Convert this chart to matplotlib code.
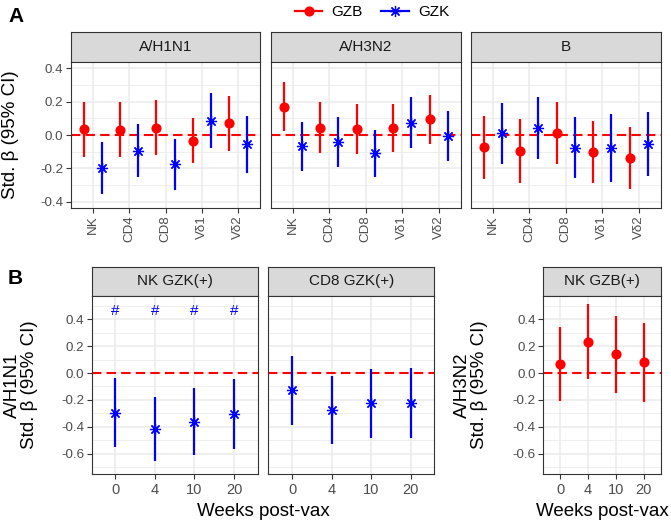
import numpy as np
import matplotlib.pyplot as plt
from matplotlib.lines import Line2D
from matplotlib.ticker import MultipleLocator

plt.rcParams['font.family'] = ['Liberation Sans', 'DejaVu Sans']

# panel A: strains x cell types
strains = ['A/H1N1', 'A/H3N2', 'B']
cells = ['NK', 'CD4', 'CD8', 'Vδ1', 'Vδ2']

gzb_est = [[0.034, 0.030, 0.042, -0.034, 0.070],
           [0.170, 0.044, 0.038, 0.042, 0.094],
           [-0.074, -0.096, 0.014, -0.102, -0.138]]
gzb_lo = [[-0.134, -0.134, -0.122, -0.170, -0.094],
          [0.026, -0.110, -0.116, -0.102, -0.054],
          [-0.266, -0.286, -0.176, -0.286, -0.324]]
gzb_hi = [[0.200, 0.200, 0.210, 0.100, 0.234],
          [0.318, 0.196, 0.186, 0.184, 0.238],
          [0.116, 0.096, 0.200, 0.082, 0.048]]

gzk_est = [[-0.200, -0.096, -0.176, 0.086, -0.056],
           [-0.066, -0.040, -0.110, 0.074, -0.004],
           [0.010, 0.042, -0.076, -0.076, -0.052]]
gzk_lo = [[-0.356, -0.254, -0.330, -0.076, -0.230],
          [-0.214, -0.190, -0.254, -0.076, -0.158],
          [-0.176, -0.144, -0.260, -0.280, -0.244]]
gzk_hi = [[-0.044, 0.064, -0.024, 0.250, 0.114],
          [0.080, 0.106, 0.030, 0.226, 0.144],
          [0.192, 0.226, 0.106, 0.124, 0.140]]

# panel B: weeks post-vax
weeks = ['0', '4', '10', '20']
nk_gzk_est = [-0.296, -0.420, -0.363, -0.308]
nk_gzk_lo = [-0.549, -0.658, -0.609, -0.569]
nk_gzk_hi = [-0.040, -0.176, -0.114, -0.047]
nk_gzk_sig = ['#', '#', '#', '#']

cd8_gzk_est = [-0.127, -0.278, -0.226, -0.226]
cd8_gzk_lo = [-0.390, -0.527, -0.482, -0.487]
cd8_gzk_hi = [0.129, -0.022, 0.030, 0.035]

nk_gzb_est = [0.070, 0.234, 0.139, 0.080]
nk_gzb_lo = [-0.209, -0.042, -0.149, -0.219]
nk_gzb_hi = [0.345, 0.512, 0.427, 0.375]

RED = '#FF0000'
BLUE = '#0000FF'
GRID = '#EBEBEB'
TXT = '#4D4D4D'
STAR = (8, 2, 0)
W, H = 671, 524

fig = plt.figure(figsize=(W / 100, H / 100), dpi=100)


def box(x0, y0, x1, y1):
    return [x0 / W, 1 - y1 / H, (x1 - x0) / W, (y1 - y0) / H]


def strip(x0, y0, x1, y1, label):
    s = fig.add_axes(box(x0, y0, x1, y1))
    s.set_facecolor('#D9D9D9')
    s.set_xticks([])
    s.set_yticks([])
    for sp in s.spines.values():
        sp.set_color('#333333')
        sp.set_linewidth(0.8)
    s.text(0.5, 0.5, label, ha='center', va='center', fontsize=11,
           color='#1A1A1A', transform=s.transAxes)


def style(ax, ylim, show_y):
    ax.set_ylim(*ylim)
    ax.yaxis.set_major_locator(MultipleLocator(0.2))
    ax.yaxis.set_minor_locator(MultipleLocator(0.1))
    ax.grid(True, which='major', color=GRID, lw=1.1, zorder=0)
    ax.grid(True, which='minor', axis='y', color=GRID, lw=0.6, zorder=0)
    ax.set_axisbelow(True)
    ax.tick_params(which='minor', length=0)
    ax.tick_params(which='major', length=3.5, color='#333333', labelcolor=TXT,
                   labelsize=9.6, width=0.8, pad=2)
    for sp in ax.spines.values():
        sp.set_color('#333333')
        sp.set_linewidth(0.8)
    ax.yaxis.set_major_formatter(plt.FuncFormatter(lambda v, p: f'{v:.1f}'))
    if not show_y:
        ax.tick_params(axis='y', labelleft=False, length=0)
    ax.axhline(0, color=RED, ls=(0, (4.5, 2.5)), lw=1.5, zorder=2)


def pointrange(ax, x, est, lo, hi, color, marker):
    ax.vlines(x, lo, hi, color=color, lw=1.6, zorder=3)
    if marker == 'o':
        ax.plot(x, est, ls='none', marker='o', color=color, ms=6.3, zorder=4)
    else:
        ax.plot(x, est, ls='none', marker=marker, color=color, ms=8, mew=0.9,
                zorder=4)


# ---- panel A ----
top_x = [(71, 260), (271, 460.7), (471, 660.7)]
xpos = np.arange(1, len(cells) + 1)
for i, strain in enumerate(strains):
    x0, x1 = top_x[i]
    strip(x0, 32.3, x1, 62.3, strain)
    ax = fig.add_axes(box(x0, 62.3, x1, 207.7))
    style(ax, (-0.436, 0.436), i == 0)
    pointrange(ax, xpos - 0.25, gzb_est[i], gzb_lo[i], gzb_hi[i], RED, 'o')
    pointrange(ax, xpos + 0.25, gzk_est[i], gzk_lo[i], gzk_hi[i], BLUE, STAR)
    ax.set_xlim(0.4, len(cells) + 0.6)
    ax.set_xticks(xpos)
    ax.set_xticklabels(cells, rotation=90)

fig.text(11 / W, 1 - 135 / H, 'Std. β (95% CI)', rotation=90, ha='center',
         va='center', fontsize=13.5)

# ---- panel B ----
wpos = np.arange(1, len(weeks) + 1)
ylimB = (-0.755, 0.574)
bottom = [
    (91.7, 257.7, 'NK GZK(+)', nk_gzk_est, nk_gzk_lo, nk_gzk_hi, BLUE, True),
    (268.3, 434.3, 'CD8 GZK(+)', cd8_gzk_est, cd8_gzk_lo, cd8_gzk_hi, BLUE, False),
    (543.3, 660.7, 'NK GZB(+)', nk_gzb_est, nk_gzb_lo, nk_gzb_hi, RED, True),
]
axesB = []
for j, (x0, x1, lab, est, lo, hi, col, showy) in enumerate(bottom):
    strip(x0, 266.7, x1, 296, lab)
    ax = fig.add_axes(box(x0, 296, x1, 474.3))
    style(ax, ylimB, showy)
    pointrange(ax, wpos, est, lo, hi, col, STAR if col == BLUE else 'o')
    ax.set_xlim(0.4, len(weeks) + 0.6)
    ax.set_xticks(wpos)
    ax.set_xticklabels(weeks, fontsize=10.5)
    ax.tick_params(axis='x', pad=3)
    axesB.append(ax)

for k, s in enumerate(nk_gzk_sig):
    axesB[0].text(wpos[k], 0.465, s, color=BLUE, ha='center', va='center',
                  fontsize=11)

fig.text(21 / W, 1 - 385 / H, 'A/H1N1\nStd. β (95% CI)', rotation=90,
         ha='center', va='center', fontsize=13.5, linespacing=1.0,
         multialignment='center')
fig.text(471 / W, 1 - 385 / H, 'A/H3N2\nStd. β (95% CI)', rotation=90,
         ha='center', va='center', fontsize=13.5, linespacing=1.0,
         multialignment='center')
fig.text((91.7 + 434.3) / 2 / W, 1 - 511 / H, 'Weeks post-vax', ha='center',
         va='center', fontsize=13.5)
fig.text((543.3 + 660.7) / 2 / W, 1 - 511 / H, 'Weeks post-vax', ha='center',
         va='center', fontsize=13.5)

fig.text(8 / W, 1 - 16 / H, 'A', fontsize=15, fontweight='bold', va='center')
fig.text(8 / W, 1 - 279 / H, 'B', fontsize=15, fontweight='bold', va='center')

handles = [Line2D([], [], color=RED, marker='o', ms=6.3, lw=1.6),
           Line2D([], [], color=BLUE, marker=STAR, ms=8, mew=0.9, lw=1.6)]
fig.legend(handles, ['GZB', 'GZK'], loc='center', ncol=2,
           bbox_to_anchor=(372 / W, 1 - 12 / H), frameon=False, fontsize=11,
           handlelength=1.8, columnspacing=1.2, handletextpad=0.6)

fig.savefig('out.png', dpi=100)
